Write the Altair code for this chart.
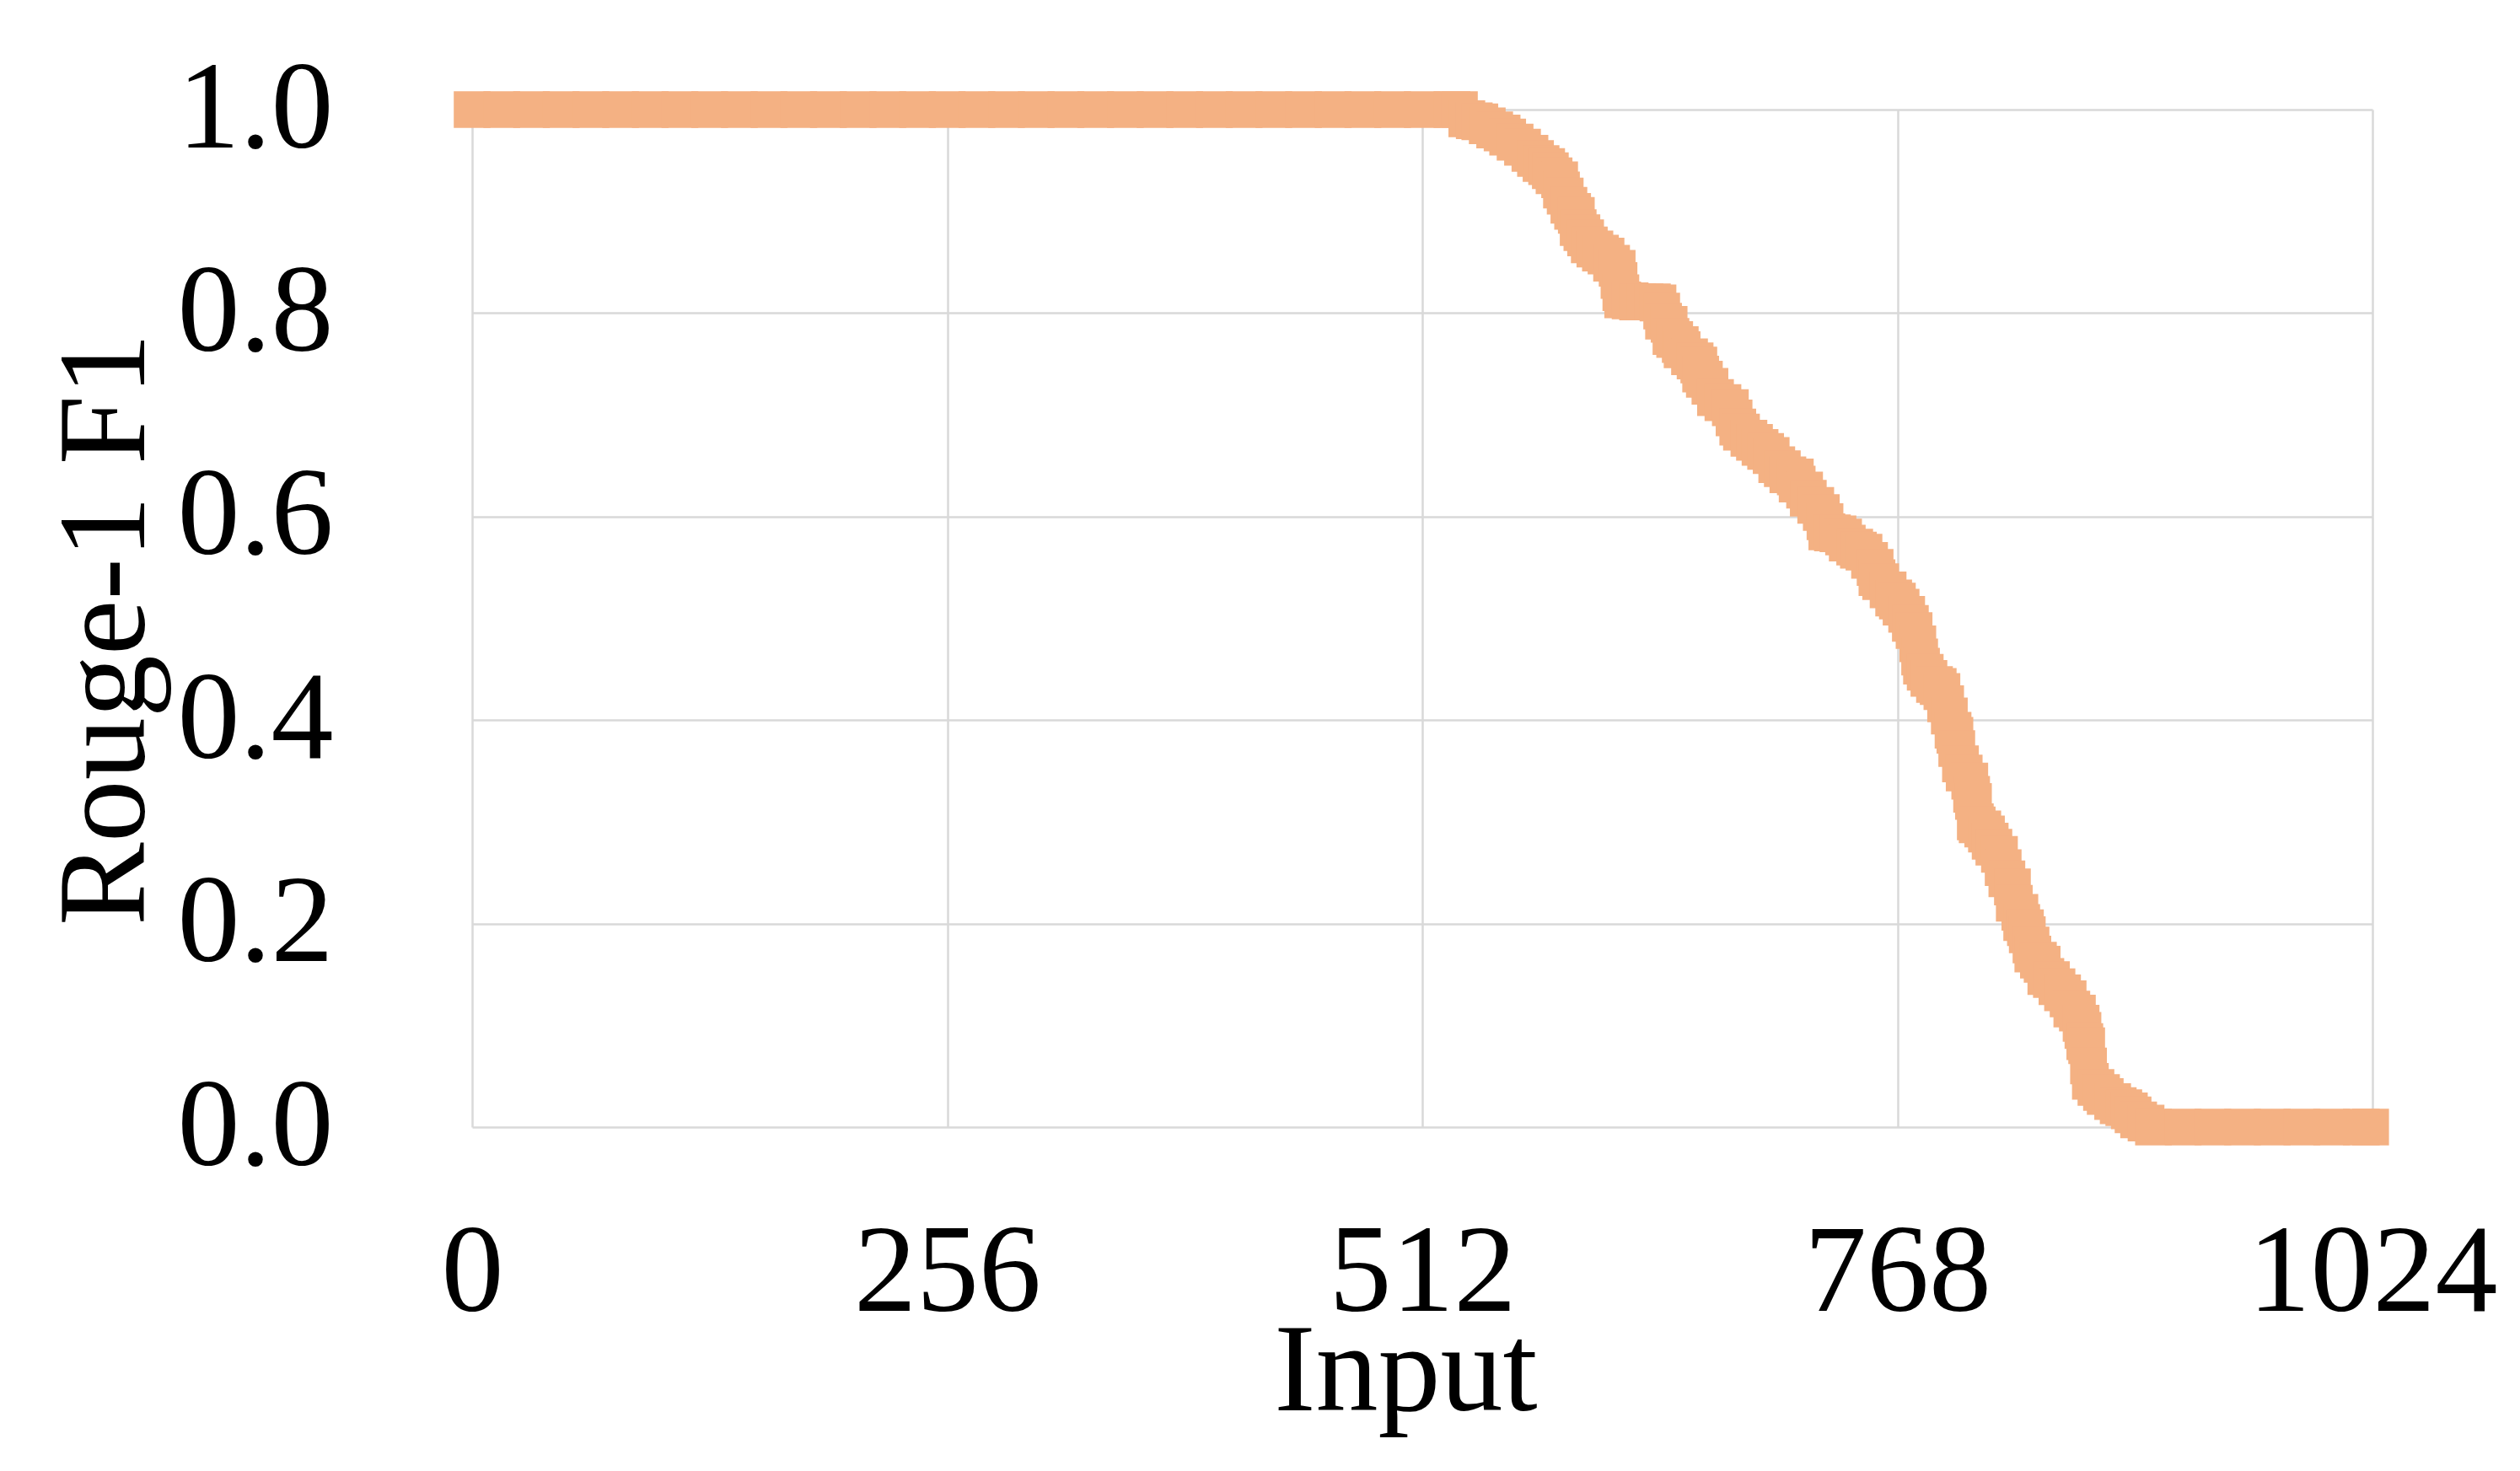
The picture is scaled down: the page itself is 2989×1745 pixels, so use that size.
import altair as alt
import pandas as pd

# Sorted Rouge-1 F1 scores per input
input_pos = [
    0, 16, 32, 48, 64, 80, 96, 112, 128, 144, 160, 176, 192, 208, 224, 240, 256,
    272, 288, 304, 320, 336, 352, 368, 384, 400, 416, 432, 448, 464, 480, 496, 512,
    528, 532,
    536, 540, 543, 547, 551, 555, 558, 562, 566, 570, 573, 576, 579, 581, 583, 586,
    587, 589, 591, 593, 595, 596, 598, 600, 602, 605, 608, 611, 614, 617, 618, 619,
    620, 624, 628, 632, 636, 639, 641, 642, 645, 646, 648, 651, 652, 656, 659, 661,
    662, 664, 667, 670, 674, 678, 680, 682, 684, 688, 691, 694, 697, 700, 703, 706,
    709, 713, 714, 718, 720, 724, 727, 729, 730, 733, 736, 739, 741, 745, 747, 750,
    753, 756, 757, 759, 763, 766, 768, 770, 773, 775, 777, 779, 780, 781, 783, 785,
    788, 790, 792, 794, 796, 798, 799, 800, 802, 804, 807, 808, 809, 810, 811, 814,
    816, 818, 820, 823, 825, 827, 830, 831, 834, 835, 837, 838, 840, 841, 844, 846,
    848, 851, 854, 857, 860, 862, 865, 867, 868, 869, 870, 871, 872, 875, 878, 880,
    884, 887, 890, 893, 895, 898, 902, 906,
    922, 938, 954, 970, 986, 1002, 1018, 1023,
]
rouge1_f1 = [
    1.0, 1.0, 1.0, 1.0, 1.0, 1.0, 1.0, 1.0, 1.0, 1.0, 1.0, 1.0, 1.0, 1.0, 1.0, 1.0, 1.0,
    1.0, 1.0, 1.0, 1.0, 1.0, 1.0, 1.0, 1.0, 1.0, 1.0, 1.0, 1.0, 1.0, 1.0, 1.0, 1.0,
    1.0, 1.0,
    0.991, 0.989, 0.988, 0.984, 0.980, 0.977, 0.973, 0.968, 0.963, 0.957, 0.952, 0.947, 0.944, 0.940, 0.935, 0.931,
    0.921, 0.915, 0.906, 0.900, 0.896, 0.884, 0.879, 0.874, 0.867, 0.863, 0.859, 0.856, 0.849, 0.844, 0.832, 0.820,
    0.813, 0.812, 0.811, 0.811, 0.811, 0.810, 0.802, 0.792, 0.789, 0.777, 0.774, 0.769, 0.764, 0.757, 0.753, 0.749,
    0.740, 0.735, 0.728, 0.717, 0.712, 0.707, 0.697, 0.688, 0.683, 0.677, 0.673, 0.668, 0.664, 0.660, 0.651, 0.647,
    0.641, 0.639, 0.632, 0.626, 0.618, 0.611, 0.604, 0.595, 0.585, 0.584, 0.583, 0.580, 0.574, 0.570, 0.567, 0.565,
    0.557, 0.550, 0.540, 0.536, 0.528, 0.520, 0.517, 0.511, 0.504, 0.495, 0.488, 0.475, 0.462, 0.453, 0.447, 0.441,
    0.435, 0.433, 0.428, 0.416, 0.404, 0.390, 0.385, 0.372, 0.357, 0.348, 0.340, 0.327, 0.320, 0.300, 0.297, 0.293,
    0.288, 0.281, 0.275, 0.268, 0.255, 0.244, 0.236, 0.220, 0.211, 0.201, 0.196, 0.189, 0.179, 0.170, 0.164, 0.160,
    0.148, 0.145, 0.138, 0.132, 0.126, 0.116, 0.112, 0.102, 0.095, 0.084, 0.080, 0.060, 0.045, 0.039, 0.034, 0.030,
    0.025, 0.021, 0.019, 0.016, 0.012, 0.007, 0.004, 0.0,
    0.0, 0.0, 0.0, 0.0, 0.0, 0.0, 0.0, 0.0,
]
x_ticks = [0, 256, 512, 768, 1024]
y_ticks = [0.0, 0.2, 0.4, 0.6, 0.8, 1.0]

df = pd.DataFrame({"Input": input_pos, "F1": rouge1_f1})

FONT = "Liberation Serif"
FS = 148
GRID = "#D9D9D9"

chart = alt.Chart(df).mark_point(
    shape="square", filled=True, size=1900, opacity=1, color="#F4B183"
).encode(
    x=alt.X(
        "Input:Q",
        scale=alt.Scale(domain=[0, 1024], nice=False, zero=False),
        axis=alt.Axis(
            values=x_ticks, format="d", title="Input", grid=True, gridColor=GRID, gridWidth=2.5,
            ticks=False, tickSize=0, domain=False,
            labelFont=FONT, labelFontSize=FS, labelColor="black", labelPadding=100,
            labelFlush=False, labelLimit=2000, labelOverlap=False,
            titleFont=FONT, titleFontSize=FS, titleFontWeight="normal", titleColor="black",
            titleBaseline="alphabetic", titleAlign="center", titleX=1107, titleY=335,
            titleLimit=3000,
        ),
    ),
    y=alt.Y(
        "F1:Q",
        scale=alt.Scale(domain=[0, 1], nice=False),
        axis=alt.Axis(
            values=y_ticks, format=".1f", title="Rouge-1 F1", grid=True, gridColor=GRID,
            gridWidth=2.5, ticks=False, tickSize=0, domain=False,
            labelFont=FONT, labelFontSize=FS, labelColor="black", labelPadding=165,
            labelFlush=False, labelLimit=2000, labelOverlap=False,
            titleFont=FONT, titleFontSize=FS, titleFontWeight="normal", titleColor="black",
            titleAngle=270, titleBaseline="alphabetic", titleAlign="center",
            titleX=-390, titleY=616, titleLimit=3000,
        ),
    ),
).properties(
    width=2254,
    height=1207,
    padding={"left": 552, "top": 122, "right": 160, "bottom": 390},
    autosize=alt.AutoSizeParams(type="none"),
    background="white",
).configure_view(stroke=None)

chart.save("out.html", embed_options={"renderer": "svg", "actions": False})
